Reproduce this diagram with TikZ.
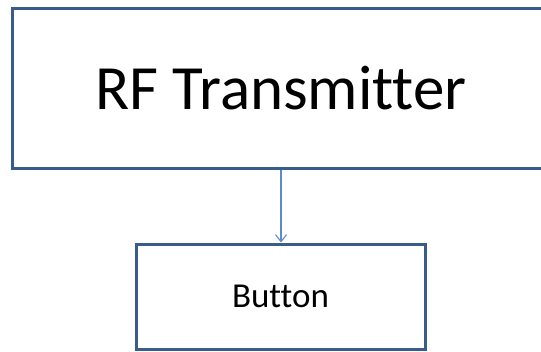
\documentclass[tikz,border=0pt]{standalone}
\usepackage{fontspec}
\setmainfont[Ligatures=NoCommon]{Carlito}
\usetikzlibrary{arrows.meta}
\definecolor{boxblue}{HTML}{385D8A}
\definecolor{linkblue}{HTML}{5B8CC8}
\tikzset{
  blockbox/.style={draw=boxblue, line width=3pt, fill=white, inner sep=0pt, text=black},
  conn/.style={draw=linkblue, line width=1.1pt, -{Straight Barb[length=7pt,width=11pt,line width=1.1pt]}}
}
\begin{document}
\begin{tikzpicture}[x=1pt,y=-1pt]
\useasboundingbox (0,0) rectangle (541,351);
\clip (0,0) rectangle (541,351);
\node[blockbox, minimum width=538pt, minimum height=160pt, font=\fontsize{63}{63}\selectfont] (rf) at (281,88) {RF Transmitter};
\node[blockbox, minimum width=289pt, minimum height=105pt, font=\fontsize{35}{35}\selectfont] (btn) at (280.5,296.5) {Button};
\draw[conn] (rf.south) -- (rf.south |- btn.north);
\end{tikzpicture}
\end{document}
